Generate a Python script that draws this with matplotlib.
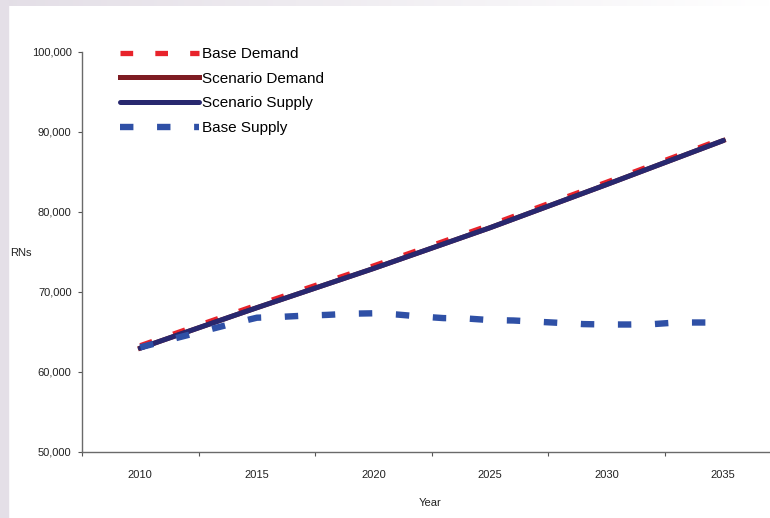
import numpy as np
import matplotlib
matplotlib.use("Agg")
import matplotlib.pyplot as plt
from matplotlib.ticker import FixedLocator, FuncFormatter

plt.rcParams["font.family"] = ["Liberation Sans", "DejaVu Sans"]

years = list(range(2010, 2036))
base_demand = [63250, 64270, 65290, 66300, 67310, 68320, 69300, 70280, 71260, 72240,
               73220, 74240, 75260, 76280, 77300, 78320, 79400, 80470, 81540, 82610,
               83680, 84770, 85860, 86950, 88040, 89130]
scenario_demand = [62950, 63970, 64980, 65990, 67000, 68000, 68980, 69960, 70940, 71920,
                   72900, 73920, 74940, 75960, 76980, 78000, 79080, 80160, 81240, 82320,
                   83400, 84500, 85600, 86700, 87800, 88900]
scenario_supply = [62950, 63970, 64980, 65990, 67000, 68000, 68980, 69960, 70940, 71920,
                   72900, 73920, 74940, 75960, 76980, 78000, 79080, 80160, 81240, 82320,
                   83400, 84500, 85600, 86700, 87800, 88900]
base_supply = [63050, 63800, 64550, 65300, 66050, 66750, 66850, 67000, 67100, 67250,
               67300, 67150, 66900, 66700, 66650, 66450, 66400, 66250, 66100, 65950,
               65900, 65900, 65950, 66150, 66150, 66150]
year_labels = ["2010", "2015", "2020", "2025", "2030", "2035"]

W, H = 770, 518
fig = plt.figure(figsize=(W / 100, H / 100), dpi=100, facecolor="white")

# lavender frame: solid strip on the left, fading band on top
lav = np.array([0.893, 0.874, 0.905])
fig.patches.append(plt.Rectangle((0, 0), 8 / W, 1, transform=fig.transFigure,
                                 color=lav, zorder=0))
top = fig.add_axes([8 / W, 1 - 6 / H, 1 - 8 / W, 6 / H])
grad = np.linspace(0, 1, 256)
img = lav[None, :] * (1 - grad[:, None]) + np.ones(3)[None, :] * grad[:, None]
top.imshow(img[None, :, :], aspect="auto", extent=(0, 1, 0, 1))
top.axis("off")

x0, x1 = 82, 781.6
yb, yt = 451.7, 51.7
ax = fig.add_axes([x0 / W, 1 - yb / H, (x1 - x0) / W, (yb - yt) / H])
ax.set_facecolor("none")

ax.plot(years, base_demand, color="#e8232b", lw=3.8, dashes=(2.4, 4.2),
        solid_capstyle="butt", dash_capstyle="butt", label="Base Demand", zorder=2)
ax.plot(years, scenario_demand, color="#7e1c22", lw=3.6, label="Scenario Demand", zorder=3)
ax.plot(years, scenario_supply, color="#28286f", lw=3.6, label="Scenario Supply", zorder=4,
        solid_capstyle="round")
ax.plot(years, base_supply, color="#2f50a6", lw=4.6, dashes=(2.1, 3.7),
        dash_capstyle="butt", label="Base Supply", zorder=5)

ax.set_xlim(2007.5, 2037.5)
ax.set_ylim(50000, 100000)

ax.xaxis.set_major_locator(FixedLocator([2010, 2015, 2020, 2025, 2030, 2035]))
ax.set_xticklabels(year_labels)
ax.xaxis.set_minor_locator(FixedLocator([2007.5, 2012.5, 2017.5, 2022.5, 2027.5, 2032.5]))
ax.tick_params(axis="x", which="major", length=0, pad=13, labelsize=8, colors="#222222")
ax.tick_params(axis="x", which="minor", length=3, width=0.8, direction="out", color="#555555")
ax.yaxis.set_major_locator(FixedLocator(list(range(50000, 100001, 10000))))
ax.yaxis.set_major_formatter(FuncFormatter(lambda v, p: f"{int(v):,}"))
ax.tick_params(axis="y", length=3, width=0.8, pad=4.5, labelsize=8, colors="#222222")
ax.tick_params(axis="y", color="#555555")

for s in ["top", "right"]:
    ax.spines[s].set_visible(False)
for s in ["left", "bottom"]:
    ax.spines[s].set_color("#6a6a6a")
    ax.spines[s].set_linewidth(1.0)

fig.text(21 / W, 1 - 253 / H, "RNs", ha="center", va="center", fontsize=8, color="#222222")
fig.text(430 / W, 1 - 503 / H, "Year", ha="center", va="center", fontsize=8, color="#222222")

leg = ax.legend(loc="upper left", bbox_to_anchor=(120 / W, 1 - 47 / H),
                bbox_transform=fig.transFigure, frameon=False, fontsize=11,
                handlelength=5.2, handletextpad=0.2, labelspacing=0.7,
                borderpad=0, borderaxespad=0)

fig.savefig("out.png", dpi=100, facecolor="white")
